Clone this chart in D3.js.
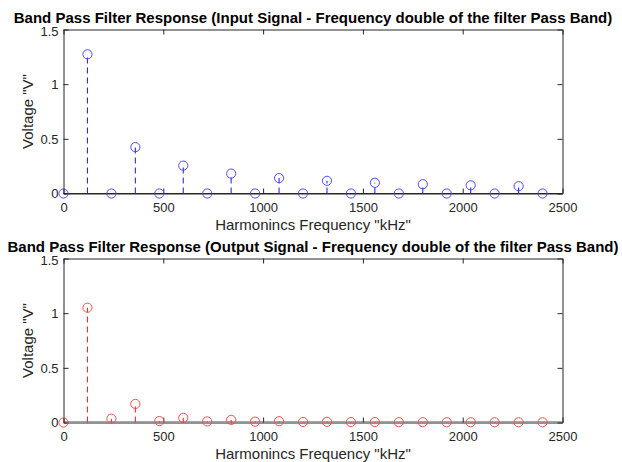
<!DOCTYPE html>
<html>
<head>
<meta charset="utf-8">
<script src="https://cdn.jsdelivr.net/npm/d3@7"></script>
<style>
  html, body { margin: 0; padding: 0; background: #fff; }
  svg { display: block; }
  text { font-family: "Liberation Sans", Arial, sans-serif; }
</style>
</head>
<body>
<svg id="chart" width="622" height="462"></svg>
<script>
// ---- data ----
const freqs = [0, 120, 240, 360, 480, 600, 720, 840, 960, 1080, 1200, 1320, 1440, 1560, 1680, 1800, 1920, 2040, 2160, 2280, 2400];
const inputVolts = [0, 1.273, 0, 0.424, 0, 0.255, 0, 0.182, 0, 0.141, 0, 0.116, 0, 0.098, 0, 0.085, 0, 0.075, 0, 0.067, 0];
const outputVolts = [0, 1.05, 0.035, 0.17, 0.013, 0.043, 0.01, 0.024, 0.008, 0.012, 0.005, 0.006, 0.004, 0.004, 0.003, 0.003, 0.002, 0.002, 0.002, 0.002, 0.002];
const xTicks = [0, 500, 1000, 1500, 2000, 2500];
const yTicks = [0, 0.5, 1, 1.5];
const titles = [
  "Band Pass Filter Response (Input Signal - Frequency double of the filter Pass Band)",
  "Band Pass Filter Response (Output Signal - Frequency double of the filter Pass Band)"
];
const xLabel = 'Harmonincs Frequency "kHz"';
const yLabel = 'Voltage "V"';

// ---- layout ----
const svg = d3.select("#chart");
const axCol = "#262626";
const panels = [
  { top: 29.5, bottom: 193.5, values: inputVolts, color: "#2a2aff", mcolor: "#4d4dff", title: titles[0], baseCol: "#262626", baseOff: 0 },
  { top: 258.5, bottom: 422.5, values: outputVolts, color: "#ff2a2a", mcolor: "#ff4d4d", title: titles[1], baseCol: "#a6a6a6", baseOff: -1 }
];
const left = 63.5, right = 562.5;

panels.forEach(p => {
  const x = d3.scaleLinear().domain([0, 2500]).range([left, right]);
  const y = d3.scaleLinear().domain([0, 1.5]).range([p.bottom, p.top]);
  const g = svg.append("g");

  // baseline
  g.append("line")
    .attr("x1", left).attr("x2", right)
    .attr("y1", y(0) + p.baseOff).attr("y2", y(0) + p.baseOff)
    .attr("stroke", p.baseCol).attr("stroke-width", 1);

  // axes
  const fmt = d3.format("");
  const styleAxis = sel => {
    sel.attr("font-size", null).attr("font-family", null);
    sel.select(".domain").attr("stroke", axCol);
    sel.selectAll(".tick line").attr("stroke", axCol);
    sel.selectAll(".tick text").attr("fill", axCol).style("font-size", "13px")
      .style("font-family", '"Liberation Sans", Arial, sans-serif');
  };
  g.append("g").attr("transform", `translate(0,${p.bottom})`)
    .call(d3.axisBottom(x).tickValues(xTicks).tickSizeInner(-5).tickSizeOuter(0).tickPadding(9).tickFormat(fmt))
    .call(styleAxis);
  g.append("g").attr("transform", `translate(0,${p.top})`)
    .call(d3.axisTop(x).tickValues(xTicks).tickSizeInner(-5).tickSizeOuter(0).tickFormat(""))
    .call(styleAxis);
  g.append("g").attr("transform", `translate(${left},0)`)
    .call(d3.axisLeft(y).tickValues(yTicks).tickSizeInner(-5).tickSizeOuter(0).tickPadding(5).tickFormat(fmt))
    .call(styleAxis)
    .call(a => a.selectAll(".tick text").filter(d => d === 1.5).attr("y", 2));
  g.append("g").attr("transform", `translate(${right},0)`)
    .call(d3.axisRight(y).tickValues(yTicks).tickSizeInner(-5).tickSizeOuter(0).tickFormat(""))
    .call(styleAxis);

  const data = freqs.map((f, i) => ({ f, v: p.values[i] }));

  // stems
  svg.append("g").selectAll("line").data(data.filter(d => d.v > 0)).join("line")
    .attr("x1", d => x(d.f)).attr("x2", d => x(d.f))
    .attr("y1", y(0)).attr("y2", d => y(d.v))
    .attr("stroke", p.color).attr("stroke-width", 1.1)
    .attr("stroke-dasharray", "6 4");

  // markers
  svg.append("g").selectAll("circle").data(data).join("circle")
    .attr("cx", d => x(d.f)).attr("cy", d => y(d.v)).attr("r", 4.6)
    .attr("fill", "none").attr("stroke", p.mcolor).attr("stroke-width", 1);

  // title
  svg.append("text").attr("x", (left + right) / 2).attr("y", p.top - 7)
    .attr("text-anchor", "middle").style("font-weight", "bold").style("font-size", "15px")
    .attr("fill", "#000").text(p.title);

  // x label
  svg.append("text").attr("x", (left + right) / 2).attr("y", p.bottom + 36)
    .attr("text-anchor", "middle").style("font-size", "15px").attr("fill", axCol).text(xLabel);

  // y label
  svg.append("text").attr("transform", `translate(33,${(p.top + p.bottom) / 2}) rotate(-90)`)
    .attr("text-anchor", "middle").style("font-size", "15px").attr("fill", axCol).text(yLabel);
});
</script>
</body>
</html>
